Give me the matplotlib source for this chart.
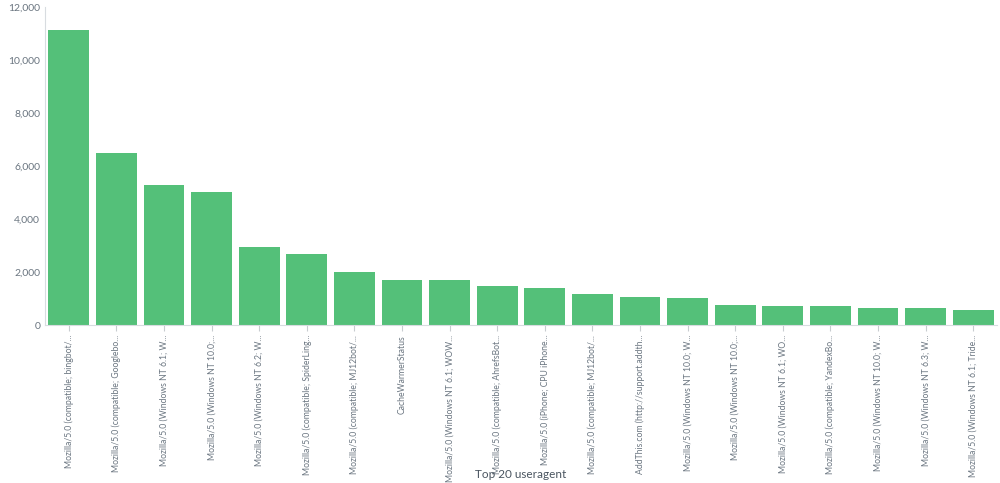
import matplotlib.pyplot as plt
from matplotlib.ticker import FuncFormatter

labels = [
    'Mozilla/5.0 (compatible; bingbot/...',
    'Mozilla/5.0 (compatible; Googlebo...',
    'Mozilla/5.0 (Windows NT 6.1; W...',
    'Mozilla/5.0 (Windows NT 10.0;...',
    'Mozilla/5.0 (Windows NT 6.2; W...',
    'Mozilla/5.0 (compatible; SpiderLing...',
    'Mozilla/5.0 (compatible; MJ12bot/...',
    'CacheWarmerStatus',
    'Mozilla/5.0 (Windows NT 6.1; WOW...',
    'Mozilla/5.0 (compatible; AhrefsBot...',
    'Mozilla/5.0 (iPhone; CPU iPhone...',
    'Mozilla/5.0 (compatible; MJ12bot/...',
    'AddThis.com (http://support.addth...',
    'Mozilla/5.0 (Windows NT 10.0; W...',
    'Mozilla/5.0 (Windows NT 10.0;...',
    'Mozilla/5.0 (Windows NT 6.1; WO...',
    'Mozilla/5.0 (compatible; YandexBo...',
    'Mozilla/5.0 (Windows NT 10.0; W...',
    'Mozilla/5.0 (Windows NT 6.3; W...',
    'Mozilla/5.0 (Windows NT 6.1; Tride...',
]
counts = [11130, 6490, 5280, 5020, 2940, 2680, 2000, 1710, 1690, 1470,
          1400, 1170, 1060, 1020, 750, 720, 720, 640, 640, 570]

plt.rcParams['font.family'] = 'Lato'
fig = plt.figure(figsize=(10, 4.83), dpi=100)
ax = fig.add_axes([0.045, 0.327, 0.952, 0.658])

x = range(len(counts))
ax.bar(x, counts, width=0.86, color='#54c079')
ax.set_xlim(-0.5, len(counts) - 0.5)
ax.set_ylim(0, 12000)
ax.set_yticks(range(0, 12001, 2000))
ax.yaxis.set_major_formatter(FuncFormatter(lambda v, p: f'{int(v):,}'))
ax.set_xticks(list(x))
ax.set_xticklabels(labels, rotation=90, ha='center', va='top', fontsize=6.2, color='#6a7580')
ax.tick_params(axis='y', labelsize=7.5, colors='#6a7580', length=0)
ax.tick_params(axis='x', length=4, color='#c8ccd0', pad=3)
for s in ['top', 'right']:
    ax.spines[s].set_visible(False)
ax.spines['left'].set_color('#d8dce0')
ax.spines['bottom'].set_color('#d8dce0')
fig.text(0.521, 0.018, 'Top 20 useragent', ha='center', va='center',
         fontsize=8.5, color='#4a5560')

fig.savefig('out.png', dpi=100)
